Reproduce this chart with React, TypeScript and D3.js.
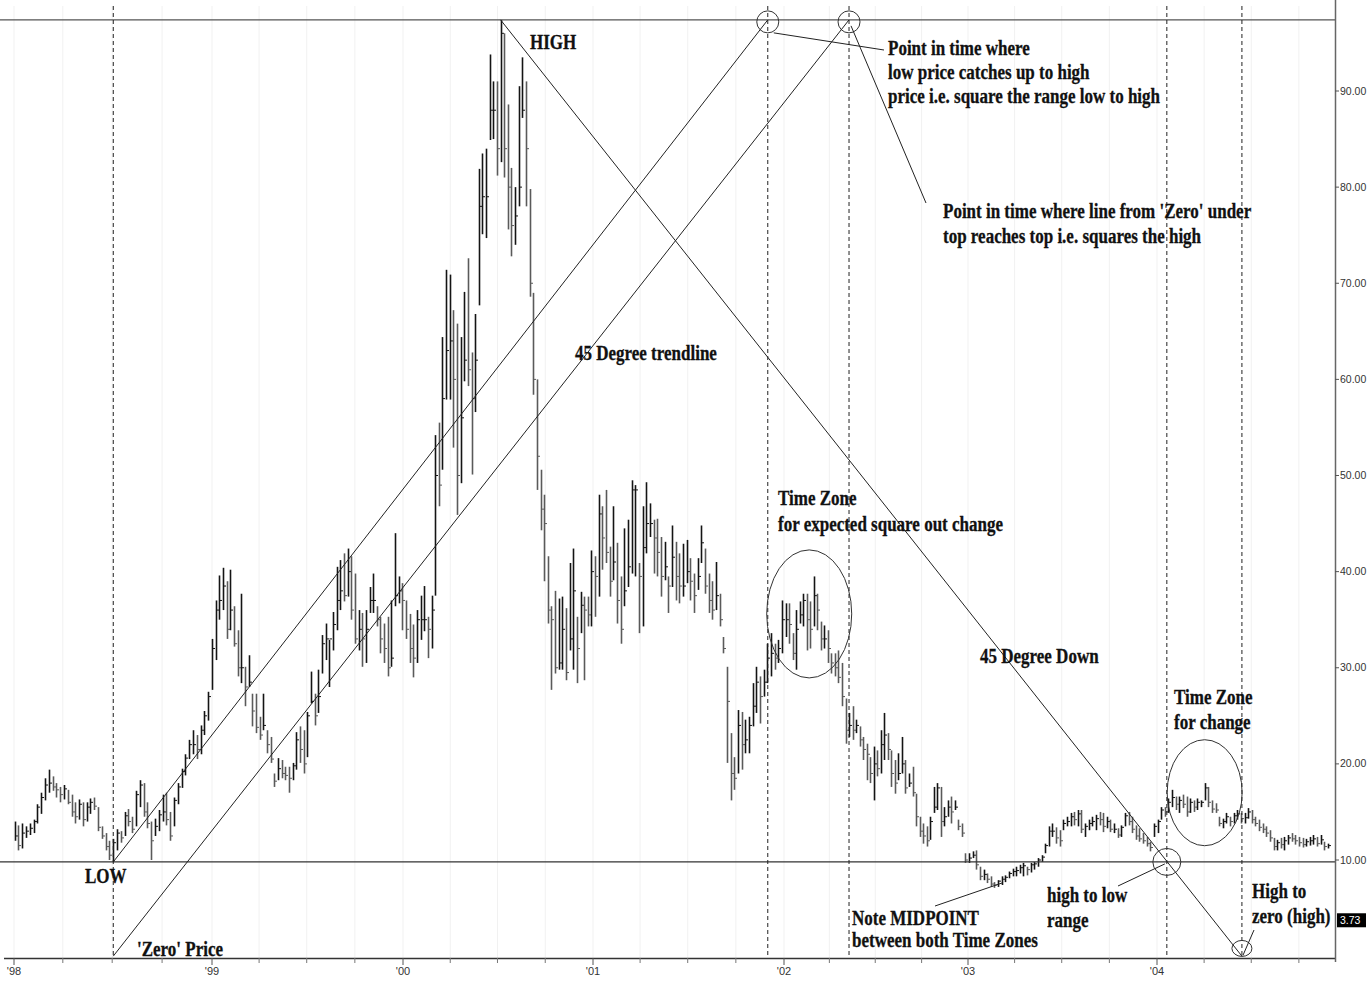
import React from 'react';
import * as d3 from 'd3';

// ---------- axis / tick data ----------
const yearTickDates = ['1998-01-01', '1999-01-01', '2000-01-01', '2001-01-01', '2002-01-01', '2003-01-01', '2004-01-01'];
const yearTickLabels = ["'98", "'99", "'00", "'01", "'02", "'03", "'04"];
const priceTicks = [10, 20, 30, 40, 50, 60, 70, 80, 90];
const firstWeek = '1998-01-02';
const lastPriceLabel = 3.73;

// ---------- weekly bars: [high, low, close] ----------
const bars1998: number[][] = [
  [14.0, 12.0, 12.5], [13.6, 11.0, 11.5], [13.8, 11.2, 12.8], [13.5, 12.3, 13.0], [13.8, 12.6, 13.3], [14.2, 12.8, 14.0],
  [15.8, 13.8, 15.5], [17.0, 14.8, 16.5], [18.5, 16.2, 17.8], [19.4, 17.0, 18.0], [18.7, 17.2, 17.6], [18.0, 16.5, 17.3],
  [17.6, 16.0, 16.8], [17.8, 16.3, 17.4], [17.3, 15.8, 16.0], [16.8, 14.5, 15.0], [16.0, 13.8, 14.5], [16.3, 14.2, 15.8],
  [16.0, 13.5, 14.2], [16.0, 14.0, 15.5], [16.4, 14.8, 16.0], [16.5, 15.2, 15.6], [15.5, 13.0, 13.4], [13.5, 12.2, 12.5],
  [12.8, 11.0, 11.4], [12.0, 10.0, 10.5], [12.2, 9.8, 11.8], [13.2, 11.0, 12.8], [13.0, 11.8, 12.3], [15.0, 12.5, 14.6],
  [15.3, 13.5, 14.0], [14.5, 12.8, 13.2], [17.2, 13.5, 16.8], [18.3, 15.5, 17.8], [18.0, 14.5, 15.0], [16.0, 13.3, 13.8],
  [14.0, 10.0, 12.0], [14.3, 12.5, 13.5], [15.2, 13.0, 14.7], [16.8, 14.0, 15.0], [17.0, 13.6, 14.2], [15.0, 12.0, 12.5],
  [16.5, 13.5, 16.2], [18.0, 15.8, 17.6], [19.5, 17.5, 19.2], [21.0, 18.8, 20.6], [22.5, 20.5, 22.0], [23.5, 21.0, 22.0],
  [23.0, 20.5, 21.5], [24.0, 21.0, 23.5], [25.5, 23.0, 25.0], [27.5, 24.5, 27.0],
];
const bars1999: number[][] = [
  [33, 27.7, 32], [37, 30.8, 36], [39.6, 35, 37], [40.4, 36, 38.5], [39, 33, 34], [40.2, 33.9, 36], [36.4, 32.2, 32.5],
  [33.9, 29.1, 30], [37.7, 28.4, 30], [30.1, 26, 28], [31.3, 28, 28.5], [27.3, 23.9, 25.5], [27.3, 23.2, 23.8],
  [24.9, 22.5, 23], [27.3, 23.5, 24], [23.5, 21.1, 22], [22.8, 20.1, 20.5], [19, 17.6, 18.2], [20.6, 18.3, 19.5],
  [20.4, 18.5, 19], [19.7, 18.3, 18.8], [19.7, 17, 18.5], [20.1, 18.3, 19.8], [23.3, 19.4, 22.5], [23.9, 20.1, 21.5],
  [23.5, 19, 20], [25.4, 20.7, 25], [29.6, 26.3, 26.5], [27.3, 24, 25], [29.8, 25.3, 27], [33.4, 29.4, 32.5],
  [34.6, 30.8, 33], [32.9, 28, 33], [35.8, 31.8, 34.5], [40.5, 33.9, 37], [41.2, 36, 38], [41.9, 36.9, 37.5],
  [42.4, 37.4, 40], [41.6, 35, 36], [39.8, 32.5, 33], [36, 31.8, 34], [35.7, 30.1, 33], [36, 30.5, 34],
  [38.4, 35.7, 37], [39.8, 35.7, 37], [36.4, 34.3, 35], [35.3, 31.5, 33], [34.6, 30.5, 32], [35.3, 29.1, 30],
  [37, 30.1, 31], [44, 36.4, 37.5], [39.5, 36.7, 38], [38.8, 33.9, 37],
];
const bars2000: number[][] = [
  [37, 33, 34], [35.6, 30.5, 32], [34.5, 29, 31], [36, 30.5, 35], [37.5, 32.9, 35], [38.5, 33.8, 35], [35.3, 31, 34],
  [37.5, 32, 36], [54.2, 37.5, 50], [55.5, 46.8, 49], [64.4, 50.6, 58], [71.4, 57.9, 63], [70.9, 57.9, 64],
  [67.2, 52.9, 60], [65.8, 45.9, 50], [64.4, 49.2, 56], [69.1, 59.8, 62], [72.6, 59.3, 61], [62.8, 50.1, 58],
  [66.8, 56.6, 62], [81.9, 67.7, 78], [83.5, 75.1, 79], [84.0, 74.7, 79], [93.8, 84.9, 88], [91, 85, 88],
  [91, 81.2, 84], [97.4, 82.6, 96], [96, 81, 84], [88.6, 75.6, 80], [82, 72.8, 76], [80, 74, 77], [90.5, 78, 80],
  [93.5, 87.2, 88], [91, 78, 84], [79.8, 68.6, 70], [69, 58.4, 60], [60, 48.5, 52], [50.6, 44.3, 46.5], [48, 39, 45],
  [41.6, 34.6, 36], [36.4, 27.7, 35], [38, 29.4, 30], [37.2, 29.8, 30.5], [37.4, 29.8, 34], [36.2, 28.7, 29.5],
  [40.9, 31.8, 33], [42.4, 29.8, 38], [35.3, 28.4, 32], [37.9, 33.6, 36.5], [37.4, 28.7, 36], [37.4, 34.3, 35.5],
  [42.2, 34.3, 40],
];
const bars2001: number[][] = [
  [41.6, 35.3, 39.5], [48, 37.4, 46], [46.8, 40.2, 43.5], [48.5, 40.9, 42], [42.6, 37.4, 39], [46.8, 39.1, 41],
  [43, 34.6, 37], [39.5, 32.5, 34], [44.5, 36.4, 38], [45.4, 38.4, 40.5], [49.5, 39.8, 48.5], [49, 39.5, 48.5],
  [40.9, 33.6, 39.5], [46.8, 34.3, 42.5], [49.3, 41.9, 45], [47.1, 43.6, 45], [45.4, 39.8, 43.5], [45.5, 39.5, 42],
  [43.6, 37.4, 39.5], [43.1, 39.1, 40.5], [39.5, 35.7, 38.5], [44.8, 38.4, 41.5], [43.1, 37, 39.5], [41.9, 36.7, 38.5],
  [42.9, 37.4, 38.5], [43.3, 38.8, 40], [41.4, 37, 39], [39.8, 35.7, 37.5], [41.4, 38.1, 39.5], [44.8, 40.9, 43],
  [42.4, 37.7, 38.5], [39.8, 35.7, 37], [39, 35, 36], [41, 36, 37.5], [37.7, 34.3, 35], [33.2, 31.5, 32],
  [30.1, 20.1, 26.5], [23.2, 16.2, 19], [20.7, 17.3, 18.5], [25.6, 19, 24], [25.4, 19.4, 22], [24.6, 21.1, 22.5],
  [24.9, 21.1, 24], [28.4, 23.9, 26], [30.1, 25.3, 28.5], [29.1, 24.2, 27], [29.8, 27, 28.5], [32.5, 28.4, 31],
  [33.6, 29.1, 31.5], [32.5, 29.8, 31], [32.9, 30.5, 32], [37, 31.5, 35],
];
const bars2002: number[][] = [
  [36.7, 33.2, 35], [36.7, 32.5, 34.5], [33.6, 30.8, 31.5], [36, 29.8, 34], [36.9, 34.6, 35.5], [37.7, 34.3, 37],
  [37.7, 31.8, 35], [36.9, 32, 34], [39.5, 34.3, 37.5], [37.7, 33.9, 36], [34.8, 31.8, 33], [34.4, 32, 33],
  [33.9, 30.5, 32], [31.5, 29.4, 30.5], [31.5, 29.1, 30], [31.8, 28.4, 29], [30.5, 26, 27], [26.8, 22.1, 23.5],
  [25.3, 22.8, 24], [26, 22.5, 23.5], [24.6, 23.2, 24], [23.9, 21.8, 22.5], [22.8, 20.4, 21.5], [22.1, 18.3, 21],
  [20.7, 18, 19], [21.8, 16.2, 20], [21.4, 18.7, 19.5], [23.5, 19, 22], [25.3, 20.4, 23], [23.2, 20.4, 21.5],
  [21.4, 17.6, 19], [20.4, 16.9, 18], [21.1, 18.3, 19], [22.8, 19, 20], [20.4, 16.9, 17.5], [19, 17.6, 18],
  [19.7, 16.6, 17], [16.9, 13.5, 14.5], [14.5, 12.4, 13], [13.8, 11.7, 12.5], [13.5, 11.4, 12], [14.5, 12.1, 14],
  [17.6, 14.9, 15.5], [18, 15.2, 17.5], [17.6, 12.4, 14], [15.5, 13.5, 14.5], [16.2, 14.5, 15.5], [16.6, 13.8, 15],
  [16.2, 15.2, 15.5], [14.2, 13.1, 13.5], [13.8, 12.4, 12.8], [10.7, 9.7, 10],
];
const bars2003: number[][] = [
  [10.7, 9.7, 10.2], [10.9, 10.2, 10.5], [11, 9, 9.5], [9.3, 7.9, 8.3], [9, 7.9, 8.5], [8.6, 7.6, 8], [8.3, 7.2, 7.5],
  [7.7, 7.1, 7.4], [7.9, 7.2, 7.8], [8.3, 7.4, 8], [8.4, 7.7, 8.2], [8.8, 8.1, 8.6], [9.1, 8.3, 8.8], [9.3, 8.3, 8.9],
  [9.5, 8.6, 9.2], [9.7, 8.3, 9.4], [9.3, 8.4, 9], [9.7, 8.7, 9.5], [9.8, 9, 9.6], [10.2, 9.3, 10], [10.5, 9.8, 10.3],
  [11.7, 10.7, 11.5], [13.5, 11.4, 13], [13.8, 12.4, 13], [13.4, 11.7, 12.3], [13.1, 11.4, 12], [14.2, 13.1, 13.8],
  [14.5, 13.5, 14], [14.9, 13.5, 14.5], [15, 13.6, 14.2], [15.2, 13.5, 14.8], [15.2, 12.8, 13.2], [13.8, 12.4, 13.5],
  [14.2, 13.1, 13.8], [14.5, 13.5, 14], [14.7, 13.1, 14.3], [15, 13.6, 14.2], [14.9, 12.9, 13.5], [14.5, 13.3, 14],
  [14.2, 12.9, 13.2], [13.8, 12.8, 13.2], [13.3, 12.3, 12.6], [13.6, 12.4, 13.4], [14.9, 13.5, 14.6], [15, 13.6, 14],
  [14.5, 12.8, 13.2], [13.6, 12.1, 12.5], [13.3, 11.9, 12.2], [12.8, 11.7, 12], [12.4, 11.4, 11.7], [11.9, 10.9, 11.3],
  [13.8, 12.4, 13.5],
];
const bars2004: number[][] = [
  [14.2, 12.8, 14], [15.5, 14.2, 15.2], [15.5, 14.5, 15], [16.4, 14.9, 16], [17.3, 15.5, 16.5], [16.6, 15.2, 15.8],
  [16.6, 14.9, 16.2], [16.8, 15.4, 15.8], [16.6, 14.5, 15], [16.4, 14.9, 16], [16.2, 15, 15.5], [16.4, 15.2, 16],
  [16.2, 15.5, 16], [18, 16.2, 17.5], [17.6, 15.5, 16], [16.2, 14.9, 15.3], [15.9, 14.9, 15.2], [14.5, 13.5, 13.8],
  [14.3, 13.3, 14], [14.9, 13.8, 14.5], [14.5, 13.5, 14], [14.9, 13.8, 14.6], [15.2, 14.2, 14.8], [14.9, 13.8, 14.3],
  [14.9, 13.8, 14.4], [15.4, 14.3, 15], [15.2, 13.8, 14.2], [14.5, 13.5, 13.8], [14.2, 13, 13.4], [13.8, 12.8, 13.2],
  [13.5, 12.4, 12.8], [13.1, 11.9, 12.3], [12.3, 11, 11.4], [12.1, 11, 11.8], [12.3, 11.2, 11.6], [12.4, 11, 12],
  [12.6, 11.6, 12.3], [12.8, 11.9, 12.2], [12.6, 11.6, 12], [12.4, 11.4, 11.8], [12.3, 11.3, 11.6], [12.2, 11.4, 11.9],
  [12.4, 11.5, 12], [12.6, 11.6, 12.2], [12.4, 11.4, 11.7], [12.6, 11.6, 12.1], [11.9, 11, 11.4], [11.7, 11.2, 11.5],
];

// ---------- Gann time points ----------
const squareRangeDate = '2001-12-01';   // low price catches up to high
const squareHighDate = '2002-05-10';    // line from zero reaches top
const crossDate = '2004-01-20';         // 45 down crosses low
const zeroDate = '2004-06-13';          // 45 down reaches zero
const zone1Center = { date: '2002-02-20', price: 35.6 };
const zone2Center = { date: '2004-04-02', price: 17.0 };

const utc = (s: string) => new Date(s + 'T00:00:00Z');

const W = 1371;
const H = 981;
const PLOT_RIGHT = 1335;
const PLOT_TOP = 6;
const PLOT_BOTTOM = 958;

const serif = "'Liberation Serif', 'Times New Roman', Times, serif";
const sans = "'Liberation Sans', Arial, sans-serif";

function Label({ x, y, children }: { x: number; y: number; children: React.ReactNode }) {
  return (
    <text
      transform={`translate(${x},${y}) scale(1,1.25)`}
      fontFamily={serif}
      fontWeight="bold"
      fontSize={17}
      fill="#111"
      stroke="#111"
      strokeWidth={0.25}
    >
      {children}
    </text>
  );
}

export default function App() {
  const xs = d3.scaleUtc().domain(yearTickDates.map(utc)).range([14, 212, 403, 593, 784, 968, 1157]);
  const ys = d3.scaleLinear().domain([10, 90]).range([860, 91]);

  const raw = [...bars1998, ...bars1999, ...bars2000, ...bars2001, ...bars2002, ...bars2003, ...bars2004];
  const start = utc(firstWeek);
  const bars = raw.map((b, i) => ({ date: d3.utcDay.offset(start, 7 * i), high: b[0], low: b[1], close: b[2] }));

  const lowBar = bars.slice(0, 52).reduce((a, b) => (b.low < a.low ? b : a));
  const highBar = bars.reduce((a, b) => (b.high > a.high ? b : a));
  const lowVal = lowBar.low;
  const highVal = highBar.high;

  const quarters: Date[] = d3.utcMonth.every(3)!.range(utc('1998-01-01'), utc('2004-12-31'));
  const minorTicks = quarters.filter((d) => d.getUTCMonth() !== 0);

  const dashDates = [lowBar.date, utc(squareRangeDate), utc(squareHighDate), utc(crossDate), utc(zeroDate)];

  const line = (d1: Date, v1: number, d2: Date, v2: number) => ({
    x1: xs(d1), y1: ys(v1), x2: xs(d2), y2: ys(v2),
  });
  const upLine = line(lowBar.date, lowVal, utc(squareRangeDate), highVal);
  const zeroLine = line(lowBar.date, 0, utc(squareHighDate), highVal);
  const downLine = line(highBar.date, highVal, utc(zeroDate), 0);

  return (
    <svg
      width={W}
      height={H}
      style={{ position: 'absolute', left: 0, top: 0, display: 'block', background: '#fff' }}
    >
      <rect x={0} y={0} width={W} height={H} fill="#fff" />

      {/* faint quarterly grid */}
      {quarters.map((d, i) => (
        <line key={'g' + i} x1={xs(d)} x2={xs(d)} y1={PLOT_TOP} y2={PLOT_BOTTOM} stroke="#f1f1f1" strokeWidth={1} />
      ))}

      {/* price bars */}
      {bars.map((b, i) => {
        const x = Math.round(xs(b.date)) + 0.5;
        const prev = i > 0 ? bars[i - 1].close : b.close;
        const col = b.close >= prev ? '#141414' : '#5a5a5a';
        return (
          <g key={'b' + i} stroke={col}>
            <line x1={x} x2={x} y1={ys(b.high)} y2={ys(b.low)} strokeWidth={1.6} />
            <line x1={x} x2={x + 2.5} y1={ys(b.close)} y2={ys(b.close)} strokeWidth={1} />
          </g>
        );
      })}

      {/* horizontal HIGH / LOW lines */}
      <line x1={0} x2={PLOT_RIGHT} y1={ys(highVal)} y2={ys(highVal)} stroke="#555" strokeWidth={1.4} />
      <line x1={0} x2={PLOT_RIGHT} y1={ys(lowVal)} y2={ys(lowVal)} stroke="#333" strokeWidth={1.3} />

      {/* dashed time lines */}
      {dashDates.map((d, i) => (
        <line
          key={'d' + i}
          x1={xs(d)}
          x2={xs(d)}
          y1={PLOT_TOP}
          y2={PLOT_BOTTOM}
          stroke="#222"
          strokeWidth={1}
          strokeDasharray="4,3"
        />
      ))}

      {/* 45 degree lines */}
      <line {...upLine} stroke="#222" strokeWidth={1} />
      <line {...zeroLine} stroke="#222" strokeWidth={1} />
      <line {...downLine} stroke="#222" strokeWidth={1} />

      {/* ellipses */}
      <ellipse cx={xs(utc(squareRangeDate))} cy={ys(highVal) + 2} rx={11} ry={11} fill="none" stroke="#333" />
      <ellipse cx={xs(utc(squareHighDate))} cy={ys(highVal) + 2} rx={11} ry={11} fill="none" stroke="#333" />
      <ellipse cx={xs(utc(zone1Center.date))} cy={ys(zone1Center.price)} rx={42.5} ry={64} fill="none" stroke="#333" />
      <ellipse cx={xs(utc(zone2Center.date))} cy={ys(zone2Center.price)} rx={37.5} ry={53} fill="none" stroke="#333" />
      <ellipse cx={xs(utc(crossDate))} cy={ys(lowVal)} rx={14} ry={13.5} fill="none" stroke="#333" />
      <ellipse cx={xs(utc(zeroDate))} cy={ys(0.8)} rx={10} ry={8} fill="none" stroke="#333" />

      {/* callout lines */}
      <line x1={xs(utc(squareRangeDate)) + 6} y1={ys(highVal) + 13} x2={884} y2={50} stroke="#222" strokeWidth={1} />
      <line x1={xs(utc(squareHighDate)) + 2} y1={ys(highVal) + 6} x2={926} y2={203} stroke="#222" strokeWidth={1} />
      <line x1={xs(utc(crossDate)) - 2} y1={ys(lowVal) + 2} x2={1118} y2={886} stroke="#222" strokeWidth={1} />
      <line x1={935} y1={906} x2={1002} y2={883} stroke="#222" strokeWidth={1} />
      <line x1={xs(utc(zeroDate)) + 1} y1={ys(0.8) + 7} x2={1254} y2={930} stroke="#222" strokeWidth={1} />

      {/* annotation texts */}
      <Label x={530} y={49}>HIGH</Label>
      <Label x={85} y={883}>LOW</Label>
      <Label x={137} y={956}>'Zero' Price</Label>
      <Label x={575} y={360}>45 Degree trendline</Label>
      <Label x={888} y={55}>Point in time where</Label>
      <Label x={888} y={79}>low price catches up to high</Label>
      <Label x={888} y={103}>price i.e. square the range low to high</Label>
      <Label x={943} y={218}>Point in time where line from 'Zero' under</Label>
      <Label x={943} y={243}>top reaches top i.e. squares the high</Label>
      <Label x={778} y={505}>Time Zone</Label>
      <Label x={778} y={531}>for expected square out change</Label>
      <Label x={980} y={663}>45 Degree Down</Label>
      <Label x={1174} y={704}>Time Zone</Label>
      <Label x={1174} y={729}>for change</Label>
      <Label x={1047} y={902}>high to low</Label>
      <Label x={1047} y={927}>range</Label>
      <Label x={852} y={925}>Note MIDPOINT</Label>
      <Label x={852} y={947}>between both Time Zones</Label>
      <Label x={1252} y={898}>High to</Label>
      <Label x={1252} y={923}>zero (high)</Label>

      {/* x axis */}
      <line x1={4} x2={PLOT_RIGHT} y1={PLOT_BOTTOM + 0.5} y2={PLOT_BOTTOM + 0.5} stroke="#333" strokeWidth={1.5} />
      {yearTickDates.map((d, i) => (
        <g key={'yt' + i}>
          <line x1={xs(utc(d))} x2={xs(utc(d))} y1={PLOT_BOTTOM} y2={PLOT_BOTTOM + 7} stroke="#555" strokeWidth={1} />
          <text
            x={xs(utc(d))}
            y={PLOT_BOTTOM + 17}
            textAnchor="middle"
            fontFamily={sans}
            fontSize={11}
            fill="#333"
          >
            {yearTickLabels[i]}
          </text>
        </g>
      ))}
      {minorTicks.map((d, i) => (
        <line key={'mt' + i} x1={xs(d)} x2={xs(d)} y1={PLOT_BOTTOM} y2={PLOT_BOTTOM + 5} stroke="#777" strokeWidth={1} />
      ))}

      {/* right axis */}
      <line x1={PLOT_RIGHT + 0.5} x2={PLOT_RIGHT + 0.5} y1={0} y2={PLOT_BOTTOM + 4} stroke="#666" strokeWidth={1.5} />
      {priceTicks.map((v) => (
        <g key={'pt' + v}>
          <line x1={PLOT_RIGHT} x2={PLOT_RIGHT + 4} y1={ys(v)} y2={ys(v)} stroke="#555" strokeWidth={1} />
          <text x={PLOT_RIGHT + 5} y={ys(v) + 3.5} fontFamily={sans} fontSize={10.5} fill="#333">
            {v.toFixed(2)}
          </text>
        </g>
      ))}
      <rect x={PLOT_RIGHT + 2} y={ys(lastPriceLabel) - 7} width={29} height={14} fill="#000" />
      <text
        x={PLOT_RIGHT + 5}
        y={ys(lastPriceLabel) + 3.5}
        fontFamily={sans}
        fontSize={10.5}
        fill="#fff"
      >
        {lastPriceLabel.toFixed(2)}
      </text>
    </svg>
  );
}
